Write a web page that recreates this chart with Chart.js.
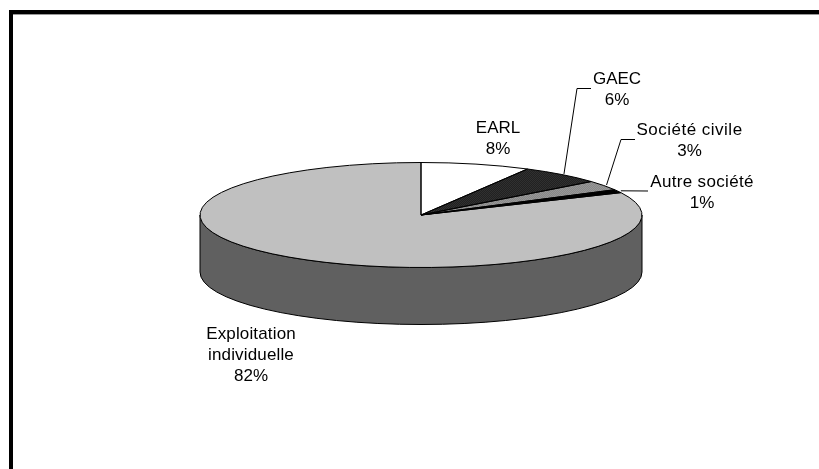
<!DOCTYPE html>
<html lang="fr">
<head>
<meta charset="utf-8">
<title>Statut des exploitations</title>
<style>
  html, body { margin: 0; padding: 0; background: #fff; }
  canvas { display: block; }
</style>
</head>
<body>
<canvas id="chart" width="819" height="469"></canvas>
<script src="https://cdn.jsdelivr.net/npm/chart.js@4"></script>
<script>
// Répartition des exploitations par statut juridique
const categories = ['EARL', 'GAEC', 'Société civile', 'Autre société', 'Exploitation individuelle'];
const labelLines = [['EARL'], ['GAEC'], ['Société civile'], ['Autre société'], ['Exploitation', 'individuelle']];
const shares = [8, 6, 3, 1, 82];

// Presentation of the flattened disc
const SQUASH = 52.5 / 221;
const CENTER = { x: 421, y: 215 };
const DEPTH = 57;
const WALL_COLOR = '#606060';
const TOP_GREY = '#c0c0c0';

// Label centres, letter spacing and, where present, the elbow of the leader line
const labelPlaces = [
  { x: 498, y: 128, track: 0 },
  { x: 617, y: 79, track: 0, elbow: [577, 88.5], end: 591 },
  { x: 689.5, y: 130, track: 0.5, elbow: [621, 139.5], end: 635 },
  { x: 702, y: 182, track: 0.33, elbow: null, end: 648, endY: 191 },
  { x: 251, y: 334, track: 0.15 }
];

// Two-colour dither tile; the transform keeps it square once the disc is flattened
function ditherTile(fg, bg, step) {
  const tile = document.createElement('canvas');
  tile.width = tile.height = step * 2;
  const c = tile.getContext('2d');
  c.fillStyle = bg;
  c.fillRect(0, 0, step * 2, step * 2);
  c.fillStyle = fg;
  c.fillRect(0, 0, step, step);
  c.fillRect(step, step, step, step);
  const pattern = c.createPattern(tile, 'repeat');
  pattern.setTransform(new DOMMatrix().scale(1, 1 / SQUASH));
  return pattern;
}

const sliceFills = [
  '#ffffff',
  ditherTile('#161616', '#3c3c3c', 1),
  ditherTile('#7c7c7c', '#a4a4a4', 1),
  '#000000',
  TOP_GREY
];

// Moves the library's circular pie onto the flattened ellipse
function flatten(ctx, arc) {
  ctx.translate(CENTER.x, CENTER.y);
  ctx.scale(1, SQUASH);
  ctx.translate(-arc.x, -arc.y);
}

const frame = {
  id: 'frame',
  beforeDraw(chart) {
    const { ctx, width, height } = chart;
    ctx.save();
    ctx.fillStyle = '#000';
    ctx.fillRect(9, 10, width - 9, 4.4);
    ctx.fillRect(9, 10, 4, height - 10);
    ctx.restore();
  }
};

const disc = {
  id: 'disc',
  beforeDatasetsDraw(chart) {
    const { ctx } = chart;
    const arc = chart.getDatasetMeta(0).data[0];
    const rx = arc.outerRadius;
    const ry = rx * SQUASH;
    // Side wall: the visible lower half of the cylinder
    ctx.save();
    ctx.beginPath();
    ctx.ellipse(CENTER.x, CENTER.y, rx, ry, 0, 0, Math.PI);
    ctx.lineTo(CENTER.x - rx, CENTER.y + DEPTH);
    ctx.ellipse(CENTER.x, CENTER.y + DEPTH, rx, ry, 0, Math.PI, 0, true);
    ctx.closePath();
    ctx.fillStyle = WALL_COLOR;
    ctx.fill();
    ctx.lineWidth = 1;
    ctx.strokeStyle = '#000';
    ctx.stroke();
    ctx.restore();
    // Slices are drawn by the library inside the flattened space
    ctx.save();
    flatten(ctx, arc);
  },
  afterDatasetsDraw(chart) {
    const { ctx } = chart;
    ctx.restore();
    const arcs = chart.getDatasetMeta(0).data;
    // Even 1px outlines: the path is flattened, the stroke is not
    arcs.forEach((arc) => {
      ctx.save();
      flatten(ctx, arc);
      ctx.beginPath();
      ctx.moveTo(arc.x, arc.y);
      ctx.arc(arc.x, arc.y, arc.outerRadius, arc.startAngle, arc.endAngle);
      ctx.closePath();
      ctx.restore();
      ctx.lineWidth = 1;
      ctx.strokeStyle = '#000';
      ctx.stroke();
    });
    // Category labels and leader lines
    ctx.save();
    ctx.font = '17px "Liberation Sans", Arial, sans-serif';
    ctx.textAlign = 'center';
    ctx.textBaseline = 'middle';
    ctx.fillStyle = '#000';
    arcs.forEach((arc, i) => {
      const place = labelPlaces[i];
      const lines = [...labelLines[i], shares[i] + '%'];
      lines.forEach((line, n) => {
        ctx.letterSpacing = (line.endsWith('%') ? 0 : place.track) + 'px';
        ctx.fillText(line, place.x, place.y + n * 21);
      });
      if (place.end) {
        const mid = (arc.startAngle + arc.endAngle) / 2;
        const reach = arc.outerRadius * 1.015;
        const ax = CENTER.x + Math.cos(mid) * reach;
        const ay = CENTER.y + Math.sin(mid) * reach * SQUASH;
        ctx.beginPath();
        ctx.moveTo(ax, ay);
        if (place.elbow) {
          ctx.lineTo(place.elbow[0], place.elbow[1]);
          ctx.lineTo(place.end, place.elbow[1]);
        } else {
          ctx.lineTo(place.end, place.endY);
        }
        ctx.lineWidth = 1;
        ctx.strokeStyle = '#000';
        ctx.stroke();
      }
    });
    ctx.restore();
  }
};

new Chart(document.getElementById('chart'), {
  type: 'pie',
  data: {
    labels: categories,
    datasets: [{
      data: shares,
      backgroundColor: sliceFills,
      borderWidth: 0,
      hoverOffset: 0
    }]
  },
  options: {
    responsive: false,
    animation: false,
    events: [],
    rotation: 0,
    layout: { padding: { left: 200, right: 177, top: 13.5, bottom: 13.5 } },
    plugins: {
      legend: { display: false },
      tooltip: { enabled: false },
      title: { display: false }
    }
  },
  plugins: [frame, disc]
});
</script>
</body>
</html>
